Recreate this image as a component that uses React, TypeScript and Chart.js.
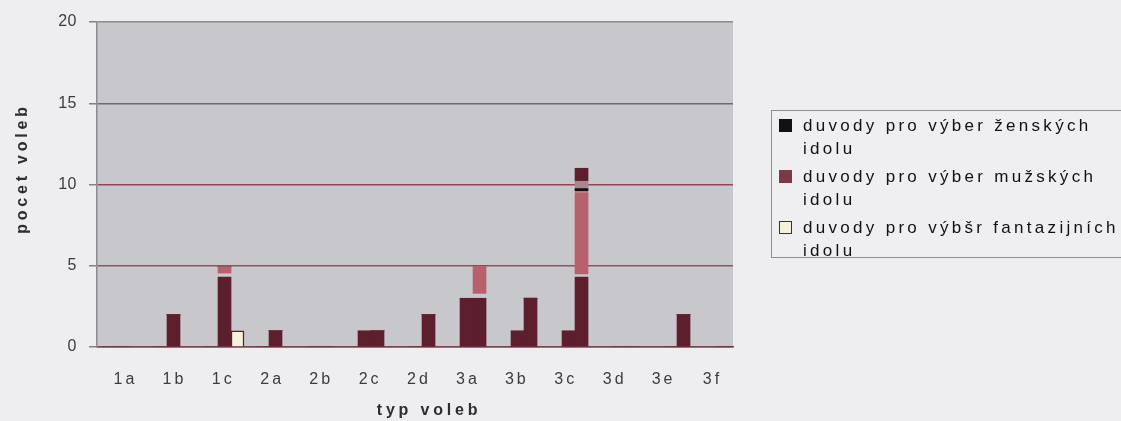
import React, { useEffect, useRef } from 'react';
import { Chart, registerables } from 'chart.js';

Chart.register(...registerables);

// ---- data ----
const categories = ['1a', '1b', '1c', '2a', '2b', '2c', '2d', '3a', '3b', '3c', '3d', '3e', '3f'];
const yTickStep = 5;
const yMax = 20;
const womenValues = [0, 0, 0, 0, 0, 1, 0, 3, 1, 1, 0, 0, 0];
// the men's bar is printed in several bands in the scanned original
const menSolid = [0, 2, 4.3, 1, 0, 1, 2, 3, 3, 4.3, 0, 2, 0];
const menGapLow = [0, 0, 0.25, 0, 0, 0, 0, 0.3, 0, 0.2, 0, 0, 0];
const menPale = [0, 0, 0.4, 0, 0, 0, 0, 1.7, 0, 5, 0, 0, 0];
const menGapHigh = [0, 0, 0, 0, 0, 0, 0, 0, 0, 0.1, 0, 0, 0];
const menLine = [0, 0, 0, 0, 0, 0, 0, 0, 0, 0.15, 0, 0, 0];
const menLight = [0, 0, 0, 0, 0, 0, 0, 0, 0, 0.45, 0, 0, 0];
const menTop = [0, 0, 0, 0, 0, 0, 0, 0, 0, 0.8, 0, 0, 0];
const fantasyValues = [0, 0, 1, 0, 0, 0, 0, 0, 0, 0, 0, 0, 0];
const legendLines = [
  ['duvody pro výber ženských', 'idolu'],
  ['duvody pro výber mužských', 'idolu'],
  ['duvody pro výbšr fantazijních', 'idolu'],
];

// ---- styles ----
const PAGE_BG = '#eeeef0';
const PLOT_BG = '#c8c8cc';
const BAR = '#5d1f2d';
const PALE = '#b8606c';
const LIGHT = '#a88890';
const FONT = '"Liberation Sans", Arial, sans-serif';
const legendSwatches = [
  { bg: '#111111', border: '#111111' },
  { bg: '#7a3a47', border: '#7a3a47' },
  { bg: '#f4f2dc', border: '#333333' },
];

const pts = (arr: number[]) => arr.map((v, i) => ({ x: i, y: v }));

const BASE_SPACING = '3px';
const setSpacing = (chart: any) => {
  chart.ctx.letterSpacing = BASE_SPACING;
};

const withSpacing = (scale: any, method: string, spacing: string, dx = 0, dy = 0) => {
  const orig = scale[method];
  scale[method] = function (...args: any[]) {
    const ctx = this.ctx;
    const prev = ctx.letterSpacing;
    ctx.save();
    ctx.translate(dx, dy);
    ctx.letterSpacing = spacing;
    const r = orig.apply(this, args);
    ctx.restore();
    ctx.letterSpacing = prev;
    return r;
  };
};

const plotBg = {
  id: 'plotBg',
  beforeUpdate: setSpacing,
  beforeLayout: setSpacing,
  afterLayout(chart: any) {
    const x = chart.scales.x;
    const y = chart.scales.y;
    if (x && !x.__spaced) {
      x.__spaced = true;
      withSpacing(x, 'drawTitle', '3.8px', 14, 0);
    }
    if (y && !y.__spaced) {
      y.__spaced = true;
      withSpacing(y, 'drawTitle', '3.8px', 0, -16);
      withSpacing(y, 'drawLabels', '0.5px');
    }
  },
  beforeDraw(chart: any) {
    setSpacing(chart);
    const { ctx, chartArea } = chart;
    ctx.save();
    ctx.fillStyle = PLOT_BG;
    ctx.fillRect(chartArea.left, chartArea.top, chartArea.right - chartArea.left, chartArea.bottom - chartArea.top);
    ctx.restore();
  },
};

export default function App() {
  const ref = useRef<HTMLCanvasElement>(null);

  useEffect(() => {
    if (!ref.current) return;
    const common = { xAxisID: 'xb', yAxisID: 'y', barThickness: 13, borderWidth: 0 };
    const chart = new Chart(ref.current, {
      type: 'bar',
      data: {
        labels: categories,
        datasets: [
          { ...common, label: 'women', stack: 'w', data: pts(womenValues), backgroundColor: BAR },
          { ...common, label: 'men', stack: 'm', data: pts(menSolid), backgroundColor: BAR },
          { ...common, label: 'men-gap1', stack: 'm', data: pts(menGapLow), backgroundColor: 'rgba(0,0,0,0)' },
          { ...common, label: 'men-pale', stack: 'm', data: pts(menPale), backgroundColor: PALE },
          { ...common, label: 'men-gap2', stack: 'm', data: pts(menGapHigh), backgroundColor: 'rgba(0,0,0,0)' },
          { ...common, label: 'men-line', stack: 'm', data: pts(menLine), backgroundColor: '#111111' },
          { ...common, label: 'men-light', stack: 'm', data: pts(menLight), backgroundColor: LIGHT },
          { ...common, label: 'men-top', stack: 'm', data: pts(menTop), backgroundColor: BAR },
          {
            ...common,
            label: 'fantasy',
            stack: 'f',
            data: pts(fantasyValues),
            backgroundColor: '#f4f2dc',
            borderColor: BAR,
            borderWidth: 1.5,
          },
        ],
      },
      options: {
        animation: false,
        responsive: false,
        devicePixelRatio: 1,
        layout: { padding: { top: 22, right: 388, bottom: 0, left: 0 } },
        plugins: { legend: { display: false }, tooltip: { enabled: false } },
        scales: {
          x: {
            type: 'category',
            offset: true,
            grid: { display: false, drawTicks: false, offset: true },
            border: { display: true, color: '#7d4651', width: 1.5 },
            ticks: {
              color: '#3c3c3c',
              font: { family: FONT, size: 16 },
              padding: 23,
              labelOffset: 4,
              maxRotation: 0,
              autoSkip: false,
            },
            title: {
              display: true,
              text: 'typ voleb',
              color: '#2e2e2e',
              font: { family: FONT, size: 16, weight: 'bold' },
              padding: { top: 0, bottom: 1 },
            },
            afterFit: (s: any) => {
              s.height = 74;
            },
          },
          xb: {
            type: 'linear',
            display: false,
            min: -0.5,
            max: 11.97,
            stacked: true,
            offset: false,
          },
          y: {
            min: 0,
            max: yMax,
            stacked: true,
            ticks: {
              stepSize: yTickStep,
              color: '#3c3c3c',
              font: { family: FONT, size: 16 },
              padding: 12,
            },
            grid: {
              color: (c: any) => {
                const v = c.tick && c.tick.value;
                if (v === 5) return '#8a5560';
                if (v === 10) return '#8e4856';
                if (v === 15) return '#706a70';
                if (v === 0) return '#7d4651';
                return '#8c8c90';
              },
              lineWidth: 1.5,
              tickLength: 8,
              tickColor: '#808080',
            },
            border: { display: true, color: '#8c8c90', width: 1.5 },
            title: {
              display: true,
              text: 'pocet voleb',
              color: '#2e2e2e',
              font: { family: FONT, size: 16, weight: 'bold' },
              padding: { top: 13, bottom: 0 },
            },
            afterFit: (s: any) => {
              s.width = 97;
            },
          },
        },
      } as any,
      plugins: [plotBg],
    });
    return () => chart.destroy();
  }, []);

  return (
    <div
      style={{
        position: 'fixed',
        left: 0,
        top: 0,
        width: 1121,
        height: 421,
        background: PAGE_BG,
        overflow: 'hidden',
      }}
    >
      <canvas ref={ref} width={1121} height={421} style={{ position: 'absolute', left: 0, top: 0 }} />
      <div
        style={{
          position: 'absolute',
          left: 771,
          top: 110,
          width: 360,
          height: 148,
          border: '1px solid #8f8f8f',
          background: '#efeff1',
          boxSizing: 'border-box',
        }}
      >
        {legendLines.map((lines, i) => (
          <div key={i} style={{ position: 'absolute', left: 0, top: 3 + i * 51, width: 360 }}>
            <div
              style={{
                position: 'absolute',
                left: 7,
                top: 5,
                width: 13,
                height: 13,
                boxSizing: 'border-box',
                background: legendSwatches[i].bg,
                border: `1px solid ${legendSwatches[i].border}`,
              }}
            />
            <div
              style={{
                position: 'absolute',
                left: 31,
                top: 0,
                font: `17px ${FONT}`,
                lineHeight: '23px',
                letterSpacing: '3.3px',
                color: '#111111',
                whiteSpace: 'nowrap',
              }}
            >
              {lines.map((l, j) => (
                <div key={j}>{l}</div>
              ))}
            </div>
          </div>
        ))}
      </div>
    </div>
  );
}
